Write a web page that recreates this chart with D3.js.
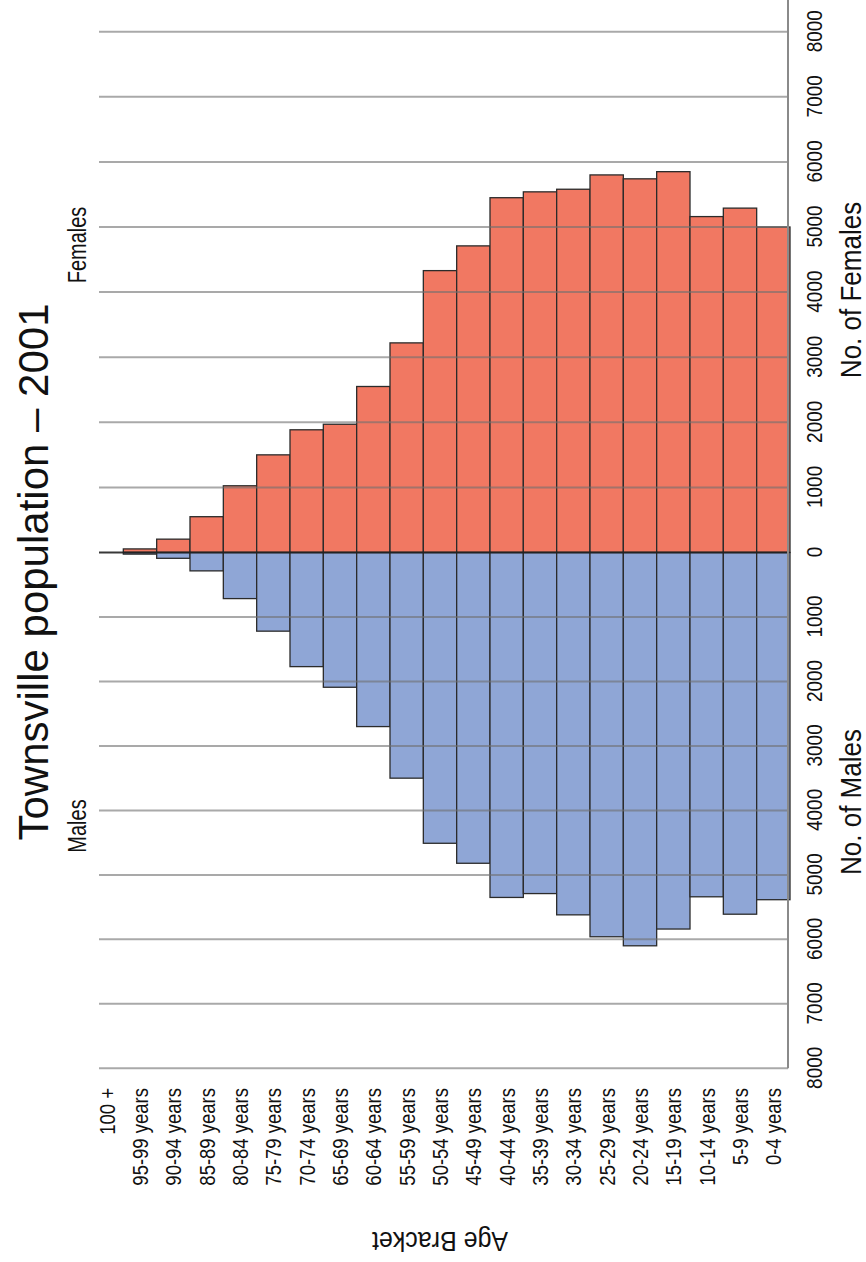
<!DOCTYPE html>
<html>
<head>
<meta charset="utf-8">
<script src="https://cdn.jsdelivr.net/npm/d3@7"></script>
<style>
body { margin: 0; background: #fff; }
text { font-family: "Liberation Sans", Arial, Helvetica, sans-serif; fill: #111; }
</style>
</head>
<body>
<script>
// age brackets, oldest first (drawn left to right before the chart is turned)
const AGES = ['100 +', '95-99 years', '90-94 years', '85-89 years', '80-84 years', '75-79 years',
  '70-74 years', '65-69 years', '60-64 years', '55-59 years', '50-54 years', '45-49 years',
  '40-44 years', '35-39 years', '30-34 years', '25-29 years', '20-24 years', '15-19 years',
  '10-14 years', '5-9 years', '0-4 years']
const FEMALES = [0, 55, 205, 550, 1025, 1500, 1885, 1970, 2550, 3220, 4330, 4710,
  5450, 5540, 5580, 5800, 5740, 5850, 5160, 5290, 5000]
const MALES = [0, 25, 90, 285, 715, 1220, 1770, 2090, 2700, 3500, 4510, 4820,
  5350, 5290, 5620, 5960, 6100, 5840, 5340, 5610, 5385]
const TICKS = [-8000, -7000, -6000, -5000, -4000, -3000, -2000, -1000, 0,
  1000, 2000, 3000, 4000, 5000, 6000, 7000, 8000]

const WIDTH = 866
const HEIGHT = 1262
// the chart is built lying down (W x H) then turned a quarter left
const W = HEIGHT
const H = WIDTH
const PLOT_TOP = 99
const PLOT_BOTTOM = 788
const STRETCH = 1.2 // text in the picture is taller than it is wide

const svg = d3.select('body').append('svg').attr('width', WIDTH).attr('height', HEIGHT)
const g = svg.append('g').attr('transform', `translate(0, ${HEIGHT}) rotate(-90)`)

// males negative, females positive
const xScale = d3.scaleLinear()
  .domain([-8000, 0, 8000])
  .range([193.7, 709.5, 1230.3])

const yScale = d3.scaleBand()
  .domain(AGES)
  .range([90, 790])
  .padding(0)

const rows = AGES.map((a, i) => ({ age: a, f: FEMALES[i], m: MALES[i] }))

// bars
g.append('g').selectAll('rect')
  .data(rows.filter(d => d.f > 0))
  .enter()
  .append('rect')
  .attr('x', xScale(0))
  .attr('y', d => yScale(d.age))
  .attr('width', d => xScale(d.f) - xScale(0))
  .attr('height', yScale.bandwidth())
  .attr('fill', '#f17862')
  .attr('stroke', '#2b2b2b')
  .attr('stroke-width', 1.3)

g.append('g').selectAll('rect')
  .data(rows.filter(d => d.m > 0))
  .enter()
  .append('rect')
  .attr('x', d => xScale(-d.m))
  .attr('y', d => yScale(d.age))
  .attr('width', d => xScale(0) - xScale(-d.m))
  .attr('height', yScale.bandwidth())
  .attr('fill', '#8fa6d6')
  .attr('stroke', '#2b2b2b')
  .attr('stroke-width', 1.3)

// grid lines sit over the bars
g.append('g').selectAll('line')
  .data(TICKS)
  .enter()
  .append('line')
  .attr('x1', d => xScale(d))
  .attr('x2', d => xScale(d))
  .attr('y1', PLOT_TOP)
  .attr('y2', PLOT_BOTTOM)
  .attr('stroke', d => d === 0 ? '#222' : '#6f6f6f')
  .attr('stroke-opacity', d => d === 0 ? 0.9 : 0.6)
  .attr('stroke-width', 2)

// value axis
const axis = d3.axisBottom(xScale)
  .tickValues(TICKS)
  .tickSize(0)
  .tickFormat(d => Math.abs(d))
const ax = g.append('g')
  .attr('transform', `translate(0, ${PLOT_BOTTOM})`)
  .call(axis)
ax.select('.domain').remove()
ax.selectAll('text')
  .attr('y', 0)
  .attr('dy', '0.72em')
  .attr('transform', `translate(0, 18) scale(1, ${STRETCH})`)
  .attr('font-size', 19)
  .attr('fill', '#111')
  .attr('font-family', '"Liberation Sans", Arial, sans-serif')
g.append('line')
  .attr('x1', xScale(-8000)).attr('x2', W)
  .attr('y1', PLOT_BOTTOM).attr('y2', PLOT_BOTTOM)
  .attr('stroke', '#8a8a8a').attr('stroke-width', 2)

// age labels
g.append('g').selectAll('text')
  .data(AGES)
  .enter()
  .append('text')
  .attr('transform', d => `translate(174, ${yScale(d) + yScale.bandwidth() / 2}) scale(1, ${STRETCH})`)
  .attr('dy', '0.36em')
  .attr('text-anchor', 'end')
  .attr('font-size', 18.5)
  .text(d => d)

// titles
g.append('text')
  .attr('x', 690).attr('y', 48)
  .attr('text-anchor', 'middle')
  .attr('font-size', 42)
  .text('Townsville population – 2001')

g.append('text').attr('transform', 'translate(436, 86) scale(1, 1.3)')
  .attr('text-anchor', 'middle').attr('font-size', 20).text('Males')
g.append('text').attr('transform', 'translate(1017, 86) scale(1, 1.3)')
  .attr('text-anchor', 'middle').attr('font-size', 20).text('Females')

g.append('text').attr('transform', 'translate(460, 861) scale(1, 1.1)')
  .attr('text-anchor', 'middle').attr('font-size', 26).text('No. of Males')
g.append('text').attr('transform', 'translate(972, 861) scale(1, 1.1)')
  .attr('text-anchor', 'middle').attr('font-size', 26).text('No. of Females')

g.append('text')
  .attr('transform', 'translate(30, 440) rotate(-90) scale(1, 1.1)')
  .attr('text-anchor', 'middle')
  .attr('font-size', 25)
  .text('Age Bracket')
</script>
</body>
</html>
